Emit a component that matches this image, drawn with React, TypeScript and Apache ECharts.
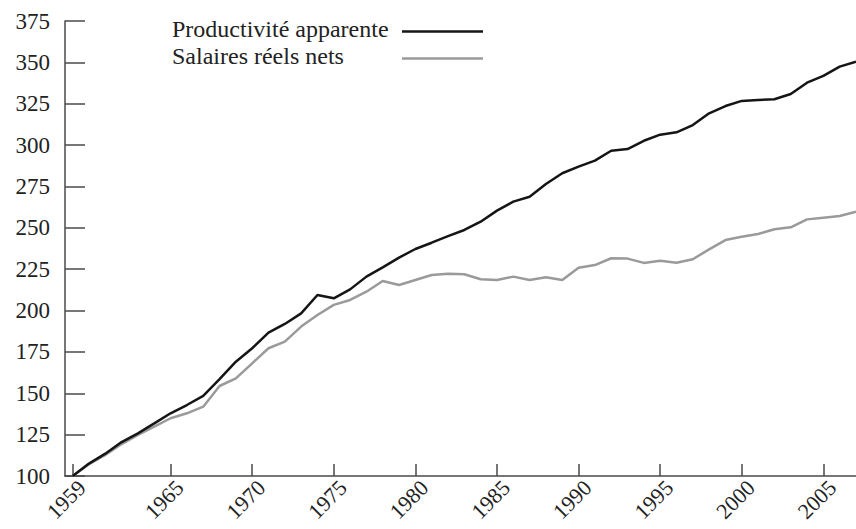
import React, { useEffect, useRef } from "react";
import * as echarts from "echarts";

const years: number[] = [
  1959, 1960, 1961, 1962, 1963, 1964, 1965, 1966, 1967, 1968, 1969, 1970, 1971, 1972, 1973, 1974, 1975,
  1976, 1977, 1978, 1979, 1980, 1981, 1982, 1983, 1984, 1985, 1986, 1987, 1988, 1989, 1990, 1991, 1992,
  1993, 1994, 1995, 1996, 1997, 1998, 1999, 2000, 2001, 2002, 2003, 2004, 2005, 2006, 2007,
];

const productivite: number[] = [
  100, 107.5, 113.5, 120.5, 125.8, 131.8, 137.9, 142.9, 148.4, 158.6, 169.1, 177.2, 186.6, 191.9, 198.3,
  209.4, 207.4, 212.8, 220.5, 226.1, 232.0, 237.2, 241.0, 245.0, 248.7, 253.7, 260.4, 265.8, 268.8, 276.5,
  283.0, 287.0, 290.6, 296.6, 297.6, 302.6, 306.3, 307.7, 312.1, 319.2, 323.6, 326.7, 327.3, 327.7, 330.9,
  337.7, 341.8, 347.4, 350.4,
];

const salaires: number[] = [
  100, 107.1, 112.7, 119.3, 124.8, 129.8, 134.9, 137.9, 141.9, 154.4, 159.0, 168.1, 177.2, 181.2, 190.3,
  197.3, 203.4, 206.4, 211.4, 217.9, 215.4, 218.5, 221.5, 222.3, 221.9, 218.9, 218.5, 220.5, 218.5, 220.1,
  218.5, 225.9, 227.5, 231.6, 231.4, 228.8, 230.1, 228.9, 231.0, 237.0, 242.6, 244.6, 246.3, 249.1, 250.3,
  255.1, 256.1, 257.1, 259.7,
];

const xTickYears: number[] = [1959, 1965, 1970, 1975, 1980, 1985, 1990, 1995, 2000, 2005];
const seriesNames: string[] = ["Productivité apparente", "Salaires réels nets"];

const FONT = "'Liberation Serif', 'DejaVu Serif', serif";

export default function App() {
  const ref = useRef<HTMLDivElement>(null);

  useEffect(() => {
    if (!ref.current) return;
    const chart = echarts.init(ref.current, undefined, { renderer: "svg" });
    const prodData = years.map((y, i) => [y, productivite[i]]);
    const salData = years.map((y, i) => [y, salaires[i]]);
    const axisColor = "#4a4a4a";
    const textColor = "#222";

    chart.setOption({
      animation: false,
      backgroundColor: "#fff",
      grid: { left: 65, right: 0, top: 21, bottom: 53, containLabel: false, outerBoundsMode: "none" },
      xAxis: {
        type: "value",
        min: 1958.53,
        max: 2007,
        axisLine: { show: true, onZero: false, lineStyle: { color: axisColor, width: 1.5 } },
        axisTick: {
          show: true,
          inside: true,
          length: 12,
          customValues: xTickYears,
          lineStyle: { color: axisColor, width: 1.5 },
        },
        axisLabel: {
          show: true,
          customValues: xTickYears,
          rotate: 45,
          margin: 17,
          padding: [22, -13, 0, 0],
          hideOverlap: false,
          formatter: (v: number) => String(v),
          fontFamily: FONT,
          fontSize: 22,
          color: textColor,
        },
        splitLine: { show: false },
      },
      yAxis: {
        type: "value",
        min: 100,
        max: 375,
        interval: 25,
        axisLine: { show: true, lineStyle: { color: axisColor, width: 1.5 } },
        axisTick: { show: true, inside: true, length: 20, lineStyle: { color: axisColor, width: 1.5 } },
        axisLabel: { margin: 15, fontFamily: FONT, fontSize: 23, color: textColor },
        splitLine: { show: false },
      },
      series: [
        {
          name: seriesNames[1],
          type: "line",
          data: salData,
          symbol: "none",
          lineStyle: { color: "#9a9a9a", width: 2.5 },
          z: 2,
        },
        {
          name: seriesNames[0],
          type: "line",
          data: prodData,
          symbol: "none",
          lineStyle: { color: "#151515", width: 2.5 },
          z: 3,
        },
      ],
      graphic: [
        {
          type: "text",
          left: 172,
          top: 17,
          style: { text: seriesNames[0], font: `24px ${FONT}`, fill: textColor },
        },
        {
          type: "text",
          left: 172,
          top: 44,
          style: { text: seriesNames[1], font: `24px ${FONT}`, fill: textColor },
        },
        {
          type: "line",
          shape: { x1: 402, y1: 31.5, x2: 483, y2: 31.5 },
          style: { stroke: "#151515", lineWidth: 2.5 },
        },
        {
          type: "line",
          shape: { x1: 402, y1: 58.5, x2: 483, y2: 58.5 },
          style: { stroke: "#9a9a9a", lineWidth: 2.5 },
        },
      ],
    });
    return () => chart.dispose();
  }, []);

  return (
    <div
      ref={ref}
      style={{ position: "fixed", left: 0, top: 0, width: 856, height: 529, background: "#fff" }}
    />
  );
}
